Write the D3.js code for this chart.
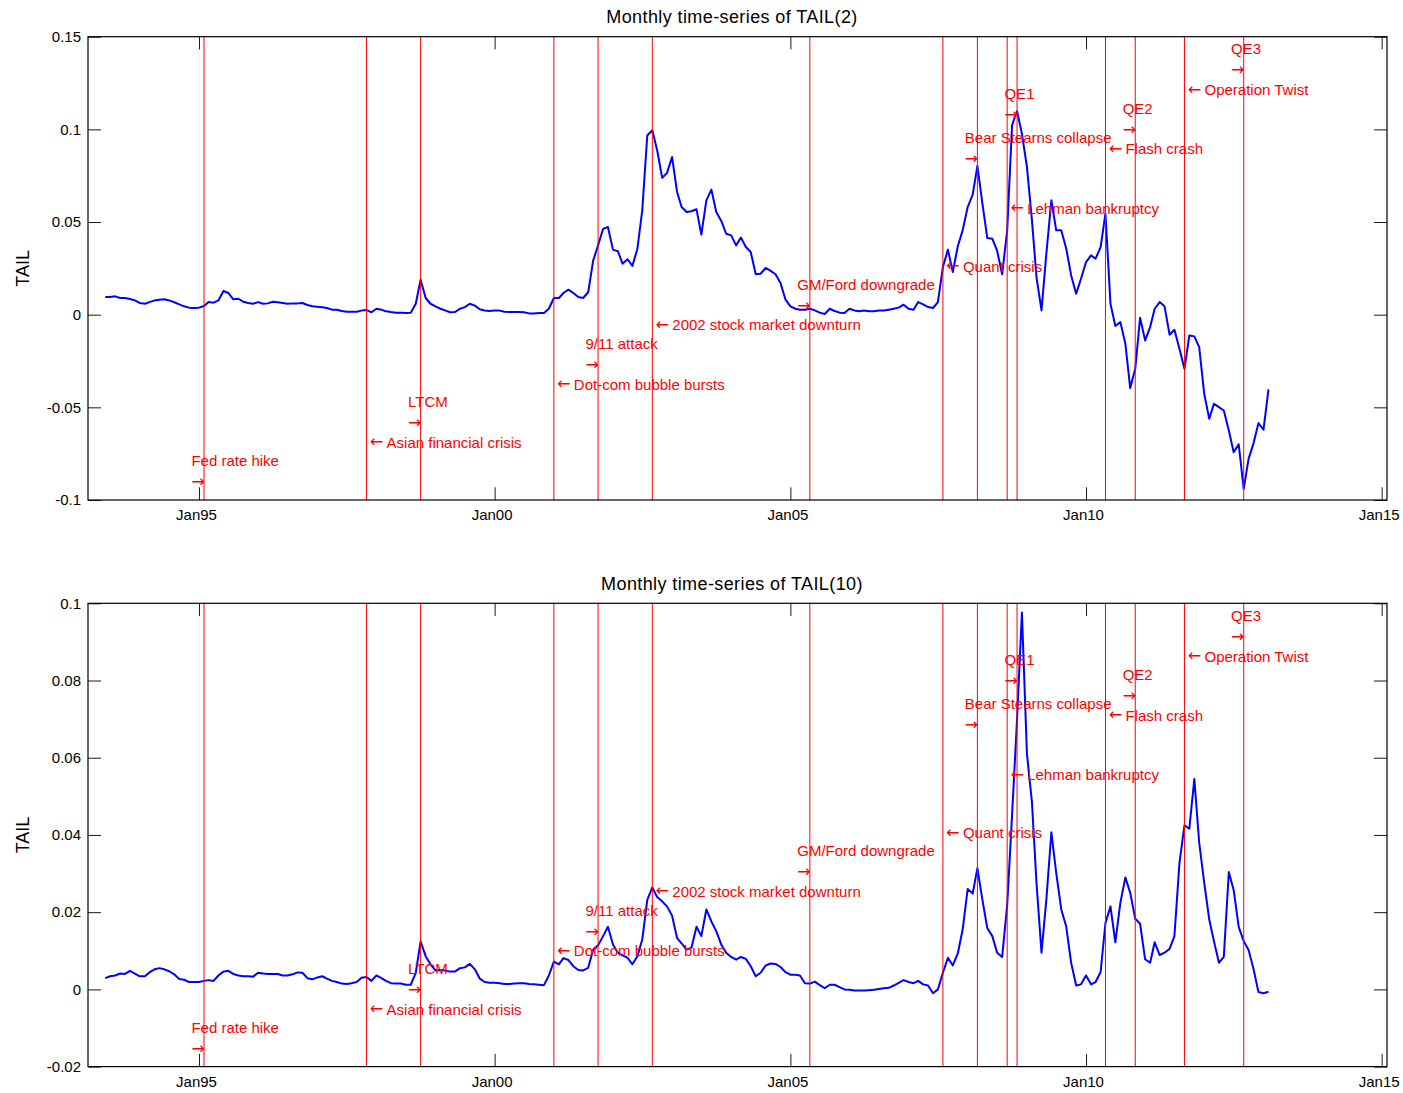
<!DOCTYPE html>
<html>
<head>
<meta charset="utf-8">
<script src="https://cdn.jsdelivr.net/npm/d3@7"></script>
<style>
  body { margin: 0; background: #fff; }
  svg text { font-family: "Liberation Sans", Arial, Helvetica, sans-serif; }
  .arrow { font-family: "DejaVu Sans", sans-serif; }
</style>
</head>
<body>
<svg id="chart" width="1403" height="1093"></svg>
<script>
// ---- data -------------------------------------------------------------
// Monthly observations starting June 1993 (one value per month)
const firstMonth = "1993-06";

const tail2 = [
  0.0095, 0.0095, 0.0099, 0.0090, 0.0090, 0.0085, 0.0077, 0.0063, 0.0059, 0.0068,
  0.0077, 0.0081, 0.0083, 0.0077, 0.0067, 0.0056, 0.0045, 0.0038, 0.0036, 0.0038,
  0.0047, 0.0068, 0.0065, 0.0077, 0.0128, 0.0117, 0.0083, 0.0086, 0.0070, 0.0063,
  0.0059, 0.0068, 0.0059, 0.0061, 0.0070, 0.0067, 0.0063, 0.0059, 0.0061, 0.0061,
  0.0063, 0.0052, 0.0045, 0.0043, 0.0040, 0.0036, 0.0027, 0.0027, 0.0020, 0.0016,
  0.0016, 0.0016, 0.0022, 0.0025, 0.0013, 0.0032, 0.0027, 0.0018, 0.0014, 0.0011,
  0.0011, 0.0009, 0.0011, 0.0059, 0.0189, 0.0090, 0.0059, 0.0045, 0.0032, 0.0023,
  0.0013, 0.0014, 0.0032, 0.0041, 0.0059, 0.0049, 0.0029, 0.0023, 0.0020, 0.0022,
  0.0022, 0.0016, 0.0014, 0.0014, 0.0014, 0.0013, 0.0007, 0.0007, 0.0009, 0.0009,
  0.0032, 0.0090, 0.0090, 0.0117, 0.0135, 0.0117, 0.0095, 0.0090, 0.0121, 0.0293,
  0.0374, 0.0463, 0.0473, 0.0351, 0.0342, 0.0275, 0.0299, 0.0263, 0.0356, 0.0563,
  0.0967, 0.0995, 0.0887, 0.0738, 0.0765, 0.0851, 0.0662, 0.0581, 0.0554, 0.0558,
  0.0569, 0.0432, 0.0617, 0.0675, 0.0554, 0.0506, 0.0437, 0.0428, 0.0374, 0.0416,
  0.0365, 0.0338, 0.0218, 0.0221, 0.0252, 0.0236, 0.0218, 0.0171, 0.0083, 0.0045,
  0.0032, 0.0027, 0.0027, 0.0032, 0.0023, 0.0011, 0.0004, 0.0032, 0.0020, 0.0011,
  0.0009, 0.0032, 0.0023, 0.0018, 0.0023, 0.0018, 0.0018, 0.0022, 0.0022, 0.0027,
  0.0032, 0.0038, 0.0054, 0.0032, 0.0027, 0.0068, 0.0056, 0.0041, 0.0036, 0.0068,
  0.0257, 0.0351, 0.0230, 0.0369, 0.0455, 0.0581, 0.0648, 0.0803, 0.0599, 0.0414,
  0.0410, 0.0344, 0.0218, 0.0455, 0.1022, 0.1098, 0.0977, 0.0797, 0.0509, 0.0203,
  0.0023, 0.0330, 0.0617, 0.0455, 0.0455, 0.0356, 0.0212, 0.0113, 0.0194, 0.0284,
  0.0320, 0.0302, 0.0365, 0.0545, 0.0059, -0.0061, -0.0040, -0.0157, -0.0396, -0.0292,
  -0.0016, -0.0139, -0.0067, 0.0032, 0.0068, 0.0045, -0.0108, -0.0081, -0.0184, -0.0292,
  -0.0112, -0.0117, -0.0175, -0.0427, -0.0562, -0.0481, -0.0499, -0.0517, -0.0625, -0.0742,
  -0.0700, -0.0940, -0.0778, -0.0693, -0.0585, -0.0621, -0.0403
];

const tail10 = [
  0.0029, 0.0034, 0.0036, 0.0041, 0.0040, 0.0048, 0.0041, 0.0034, 0.0034, 0.0044,
  0.0052, 0.0055, 0.0052, 0.0047, 0.0039, 0.0027, 0.0025, 0.0019, 0.0019, 0.0019,
  0.0022, 0.0024, 0.0022, 0.0036, 0.0046, 0.0048, 0.0040, 0.0036, 0.0034, 0.0034,
  0.0033, 0.0043, 0.0041, 0.0040, 0.0040, 0.0040, 0.0036, 0.0036, 0.0039, 0.0044,
  0.0043, 0.0029, 0.0026, 0.0031, 0.0034, 0.0028, 0.0022, 0.0019, 0.0015, 0.0014,
  0.0016, 0.0019, 0.0030, 0.0032, 0.0022, 0.0036, 0.0029, 0.0022, 0.0016, 0.0015,
  0.0015, 0.0012, 0.0012, 0.0043, 0.0124, 0.0086, 0.0065, 0.0049, 0.0050, 0.0049,
  0.0046, 0.0046, 0.0055, 0.0057, 0.0066, 0.0052, 0.0028, 0.0019, 0.0017, 0.0017,
  0.0016, 0.0014, 0.0014, 0.0015, 0.0016, 0.0016, 0.0014, 0.0013, 0.0012, 0.0011,
  0.0036, 0.0072, 0.0065, 0.0081, 0.0076, 0.0060, 0.0050, 0.0049, 0.0056, 0.0103,
  0.0114, 0.0138, 0.0162, 0.0116, 0.0095, 0.0088, 0.0082, 0.0065, 0.0086, 0.0129,
  0.0232, 0.0264, 0.0239, 0.0228, 0.0215, 0.0191, 0.0133, 0.0119, 0.0103, 0.0108,
  0.0162, 0.0138, 0.0207, 0.0176, 0.0151, 0.0116, 0.0095, 0.0084, 0.0077, 0.0084,
  0.0079, 0.0060, 0.0034, 0.0043, 0.0062, 0.0067, 0.0066, 0.0058, 0.0045, 0.0038,
  0.0038, 0.0036, 0.0016, 0.0015, 0.0020, 0.0011, 0.0003, 0.0012, 0.0012, 0.0006,
  0.0000, -0.0001, -0.0003, -0.0003, -0.0003, -0.0002, -0.0001, 0.0001, 0.0003, 0.0004,
  0.0010, 0.0017, 0.0024, 0.0019, 0.0016, 0.0022, 0.0013, 0.0010, -0.0010, 0.0000,
  0.0043, 0.0082, 0.0062, 0.0093, 0.0155, 0.0260, 0.0248, 0.0314, 0.0232, 0.0159,
  0.0138, 0.0095, 0.0084, 0.0218, 0.0450, 0.0700, 0.0976, 0.0610, 0.0485, 0.0276,
  0.0095, 0.0233, 0.0407, 0.0301, 0.0207, 0.0162, 0.0069, 0.0010, 0.0013, 0.0036,
  0.0013, 0.0019, 0.0045, 0.0172, 0.0215, 0.0122, 0.0224, 0.0290, 0.0250, 0.0183,
  0.0170, 0.0078, 0.0069, 0.0122, 0.0089, 0.0095, 0.0105, 0.0138, 0.0327, 0.0425,
  0.0416, 0.0545, 0.0380, 0.0276, 0.0181, 0.0125, 0.0069, 0.0084, 0.0304, 0.0257,
  0.0162, 0.0125, 0.0102, 0.0052, -0.0007, -0.0010, -0.0006
];

// Market events marked on both panels
const eventNames = [
  "Fed rate hike", "Asian financial crisis", "LTCM", "Dot-com bubble bursts",
  "9/11 attack", "2002 stock market downturn", "GM/Ford downgrade", "Quant crisis",
  "Bear Stearns collapse", "Lehman bankruptcy", "QE1", "Flash crash", "QE2",
  "Operation Twist", "QE3"
];
const eventMonths = [
  "1995-02", "1997-11", "1998-10", "2001-01", "2001-10", "2002-09", "2005-05",
  "2007-08", "2008-03", "2008-09", "2008-11", "2010-05", "2010-11", "2011-09", "2012-09"
];
// pointer direction of each label: "right" = label above a → pointing at the line,
// "left" = ← followed by the label, to the right of the line
const eventPointers = [
  "right", "left", "right", "left", "right", "left", "right", "left",
  "right", "left", "right", "left", "right", "left", "right"
];

// Axis settings
const xLimits = ["1993-02-14T12:00", "2015-02-03T00:00"];
const xTickDates = ["1995-01-01", "2000-01-01", "2005-01-01", "2010-01-01", "2015-01-01"];
const xTickLabels = ["Jan95", "Jan00", "Jan05", "Jan10", "Jan15"];

const panelTitles = ["Monthly time-series of TAIL(2)", "Monthly time-series of TAIL(10)"];
const yLabel = "TAIL";
const yDomains = [[-0.1, 0.15], [-0.02, 0.1]];
const yTicks = [
  [-0.1, -0.05, 0, 0.05, 0.1, 0.15],
  [-0.02, 0, 0.02, 0.04, 0.06, 0.08, 0.1]
];
const yTickLabels = [
  ["-0.1", "-0.05", "0", "0.05", "0.1", "0.15"],
  ["-0.02", "0", "0.02", "0.04", "0.06", "0.08", "0.1"]
];

// ---- layout -------------------------------------------------------------
const plotLeft = 88, plotRight = 1387;
const panelTops = [36.7, 603.3];
const plotHeight = 463.3;
// vertical placement of each event label (fraction of plot height from the top)
const labelRows = [0.939, 0.876, 0.811, 0.750, 0.686, 0.622, 0.558, 0.496,
                   0.241, 0.370, 0.146, 0.242, 0.178, 0.115, 0.050];

const parseDay = d3.utcParse("%Y-%m-%d");
const parseStamp = d3.utcParse("%Y-%m-%dT%H:%M");
const parseMonth = d3.utcParse("%Y-%m");

const svg = d3.select("#chart");
const x = d3.scaleUtc()
  .domain(xLimits.map(parseStamp))
  .range([plotLeft, plotRight]);

const start = parseMonth(firstMonth);
const series = [tail2, tail10].map(vals =>
  vals.map((v, i) => ({ date: d3.utcMonth.offset(start, i), value: v })));
const eventDates = eventMonths.map(parseMonth);

const fontSize = 15;
const tickLen = 12.7;

[0, 1].forEach(p => {
  const top = panelTops[p], bottom = top + plotHeight;
  const y = d3.scaleLinear().domain(yDomains[p]).range([bottom, top]);
  const g = svg.append("g");

  // title
  g.append("text")
    .attr("x", 732).attr("y", top - 13.5)
    .attr("text-anchor", "middle")
    .attr("font-size", 18).attr("letter-spacing", 0.4)
    .attr("fill", "#000")
    .text(panelTitles[p]);

  // y label
  g.append("text")
    .attr("transform", `translate(29,${(top + bottom) / 2}) rotate(-90)`)
    .attr("text-anchor", "middle")
    .attr("font-size", 18)
    .attr("fill", "#000")
    .text(yLabel);

  // series line
  const line = d3.line().x(d => x(d.date)).y(d => y(d.value));
  g.append("path")
    .datum(series[p])
    .attr("d", line)
    .attr("fill", "none")
    .attr("stroke", "#0000ff")
    .attr("stroke-width", 2)
    .attr("stroke-linejoin", "round");

  // event lines
  g.selectAll(".evt").data(eventDates).join("line")
    .attr("x1", d => x(d)).attr("x2", d => x(d))
    .attr("y1", top).attr("y2", bottom)
    .attr("stroke", "#ff0000").attr("stroke-width", 1);

  // axes: ticks pointing inward on all four sides
  const xb = d3.axisBottom(x)
    .tickValues(xTickDates.map(parseDay))
    .tickFormat((d, i) => xTickLabels[i])
    .tickSizeInner(-tickLen).tickSizeOuter(0).tickPadding(9.3);
  const xt = d3.axisTop(x)
    .tickValues(xTickDates.map(parseDay))
    .tickFormat("")
    .tickSizeInner(-tickLen).tickSizeOuter(0);
  const yl = d3.axisLeft(y)
    .tickValues(yTicks[p])
    .tickFormat((d, i) => yTickLabels[p][i])
    .tickSizeInner(-13).tickSizeOuter(0).tickPadding(7);
  const yr = d3.axisRight(y)
    .tickValues(yTicks[p])
    .tickFormat("")
    .tickSizeInner(-13).tickSizeOuter(0);

  const axes = [
    [xb, `translate(0,${bottom})`, -3],
    [xt, `translate(0,${top})`, 0],
    [yl, `translate(${plotLeft},0)`, 0],
    [yr, `translate(${plotRight},0)`, 0]
  ];
  axes.forEach(([ax, tr, shift]) => {
    const a = g.append("g").attr("transform", tr).call(ax);
    a.select(".domain").remove();
    a.selectAll("line").attr("stroke", "#1a1a1a");
    a.selectAll("text")
      .attr("font-size", fontSize)
      .attr("font-family", "Liberation Sans, Arial, sans-serif")
      .attr("dx", shift)
      .attr("fill", "#000");
  });

  // axes box
  g.append("rect")
    .attr("x", plotLeft).attr("y", top)
    .attr("width", plotRight - plotLeft).attr("height", plotHeight)
    .attr("fill", "none").attr("stroke", "#000").attr("stroke-width", 1.2);

  // event labels
  const labels = g.append("g").attr("fill", "#ff0000").attr("font-size", fontSize);
  eventNames.forEach((name, i) => {
    const ex = x(eventDates[i]);
    const cy = top + labelRows[i] * plotHeight;
    if (eventPointers[i] === "right") {
      const tx = ex - 12.6;
      labels.append("text").attr("x", tx).attr("y", cy - 10.9 + 5.4).text(name);
      labels.append("text").attr("class", "arrow")
        .attr("x", tx).attr("y", cy + 10.9 + 4.6)
        .attr("font-size", 16).text("\u2192");
    } else {
      const t = labels.append("text").attr("x", ex + 3.2).attr("y", cy + 5.4);
      t.append("tspan").attr("class", "arrow").attr("font-size", 16)
        .attr("dy", -0.6).text("\u2190");
      t.append("tspan").attr("dx", 3.4).attr("dy", 0.6).text(name);
    }
  });
});
</script>
</body>
</html>
